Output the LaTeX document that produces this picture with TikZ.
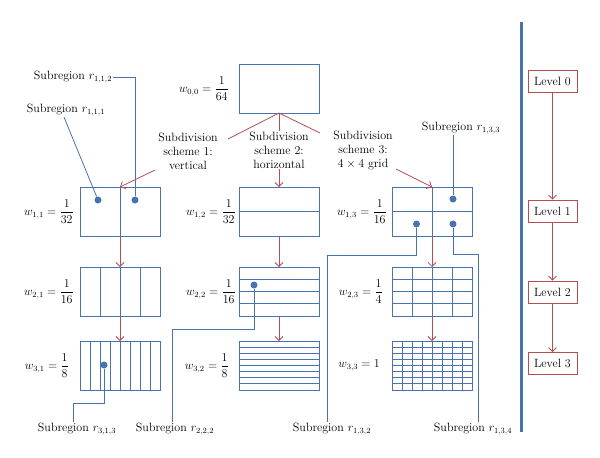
\documentclass[tikz,border=0pt]{standalone}
\usepackage{amsmath}
\usetikzlibrary{arrows.meta,calc}
\definecolor{myblue}{RGB}{72,114,176}
\definecolor{myred}{RGB}{180,78,82}
\begin{document}
\begin{tikzpicture}[x=1pt,y=-1pt,
  every node/.append style={font=\fontsize{12}{14}\selectfont},
  gbox/.style={draw=myblue, line width=0.9pt, minimum width=80pt, minimum height=49pt, inner sep=0pt, outer sep=0pt},
  gridl/.style={draw=myblue, line width=0.8pt},
  blueline/.style={draw=myblue, line width=0.8pt},
  redline/.style={draw=myred, line width=0.8pt},
  redarrow/.style={draw=myred, line width=0.8pt, -{Straight Barb[length=4pt,width=8pt]}},
  dotn/.style={circle, fill=myblue, inner sep=0pt, minimum size=7pt},
  lvl/.style={draw=myred, line width=0.8pt, minimum width=49pt, minimum height=22pt, inner sep=0pt},
  lab/.style={inner sep=1pt},
  wlab/.style={anchor=east, inner sep=0pt}
]
\useasboundingbox (0,0) rectangle (600,458);

% boxes
\node[gbox] (b00) at (279,88.5) {};
\node[gbox] (b11) at (120,211.5) {};
\node[gbox] (b12) at (279,211.5) {};
\node[gbox] (b13) at (432,211.5) {};
\node[gbox] (b21) at (120,291.5) {};
\node[gbox] (b22) at (279,291.5) {};
\node[gbox] (b23) at (432,291.5) {};
\node[gbox] (b31) at (120,365.5) {};
\node[gbox] (b32) at (279,365.5) {};
\node[gbox] (b33) at (432,365.5) {};

% vertical subdivisions
\foreach \b/\n in {b11/2,b21/4,b31/8,b13/2,b23/4,b33/8}{
  \pgfmathtruncatemacro{\m}{\n-1}
  \foreach \i in {1,...,\m}
    \draw[gridl] ($(\b.north west)!\i/\n!(\b.north east)$) -- ($(\b.south west)!\i/\n!(\b.south east)$);
}
% horizontal subdivisions
\foreach \b/\n in {b12/2,b22/4,b32/8,b13/2,b23/4,b33/8}{
  \pgfmathtruncatemacro{\m}{\n-1}
  \foreach \i in {1,...,\m}
    \draw[gridl] ($(\b.north west)!\i/\n!(\b.south west)$) -- ($(\b.north east)!\i/\n!(\b.south east)$);
}

% weight labels
\node[wlab] (w00) at (229,88.5) {$w_{0,0} = \dfrac{1}{64}$};
\node[wlab] (w11) at (74,211.5) {$w_{1,1} = \dfrac{1}{32}$};
\node[wlab] (w12) at (236,211.5) {$w_{1,2} = \dfrac{1}{32}$};
\node[wlab] (w13) at (387,211.5) {$w_{1,3} = \dfrac{1}{16}$};
\node[wlab] (w21) at (74,291.5) {$w_{2,1} = \dfrac{1}{16}$};
\node[wlab] (w22) at (236,291.5) {$w_{2,2} = \dfrac{1}{16}$};
\node[wlab] (w23) at (383,291.5) {$w_{2,3} = \dfrac{1}{4}$};
\node[wlab] (w31) at (69,365.5) {$w_{3,1} = \dfrac{1}{8}$};
\node[wlab] (w32) at (229,365.5) {$w_{3,2} = \dfrac{1}{8}$};
\node[wlab] (w33) at (380,365.5) {$w_{3,3} = 1$};

% column arrows
\draw[redarrow] (b11.south) -- (b21.north);
\draw[redarrow] (b21.south) -- (b31.north);
\draw[redarrow] (b12.south) -- (b22.north);
\draw[redarrow] (b22.south) -- (b32.north);
\draw[redarrow] (b13.south) -- (b23.north);
\draw[redarrow] (b23.south) -- (b33.north);

% schemes
\node[lab, align=center] (s1) at (188,151) {Subdivision\\scheme 1:\\vertical};
\node[lab, align=center] (s2) at (279,150) {Subdivision\\scheme 2:\\horizontal};
\node[lab, align=center] (s3) at (363,151) {Subdivision\\scheme 3:\\$4\times 4$ grid};
\coordinate (s1in) at (228,139);
\coordinate (s3in) at (320,133);
\coordinate (s1out) at (155,170);
\coordinate (s3out) at (396,169);
\draw[redline] (b00.south) -- (s1in);
\draw[redline] (b00.south) -- (s2.north);
\draw[redline] (b00.south) -- (s3in);
\draw[redarrow] (s1out) -- (b11.north);
\draw[redarrow] (s2.south) -- (b12.north);
\draw[redarrow] (s3out) -- (b13.north);

% dots
\node[dotn] (d111) at (98,200) {};
\node[dotn] (d112) at (135,200) {};
\node[dotn] (d133) at (453,199) {};
\node[dotn] (d132) at (416.5,224) {};
\node[dotn] (d134) at (453,224) {};
\node[dotn] (d222) at (254,285) {};
\node[dotn] (d313) at (104,365) {};

% subregion labels
\node[lab] (t112) at (73,77) {Subregion $r_{1,1,2}$};
\node[lab] (t111) at (66,110) {Subregion $r_{1,1,1}$};
\node[lab] (t133) at (461,128) {Subregion $r_{1,3,3}$};
\node[lab] (t313) at (77,429) {Subregion $r_{3,1,3}$};
\node[lab] (t222) at (175,429) {Subregion $r_{2,2,2}$};
\node[lab] (t132) at (332,429) {Subregion $r_{1,3,2}$};
\node[lab] (t134) at (473,429) {Subregion $r_{1,3,4}$};

\coordinate (c132) at (327,255);
\coordinate (c134) at (478,254);
\coordinate (c222) at (172,329);
\coordinate (c313) at (73,403);

\draw[blueline] (t112.east) -| (d112);
\draw[blueline] ($(t111.south)+(-2,0)$) -- (d111);
\draw[blueline] (t133.south -| d133) -- (d133);
\draw[blueline] (d132) |- (c132) -- (c132 |- t132.north);
\draw[blueline] (d134) |- (c134) -- (c134 |- t134.north);
\draw[blueline] (d222) |- (c222) -- (c222 |- t222.north);
\draw[blueline] (d313) |- (c313) -- (c313 |- t313.north);

% separator
\draw[myblue, line width=3pt] (521,22) -- (521,432);

% levels
\node[lvl] (L0) at (552.5,81) {Level 0};
\node[lvl] (L1) at (552.5,211) {Level 1};
\node[lvl] (L2) at (552.5,292) {Level 2};
\node[lvl] (L3) at (552.5,363.5) {Level 3};
\draw[redarrow] (L0) -- (L1);
\draw[redarrow] (L1) -- (L2);
\draw[redarrow] (L2) -- (L3);
\end{tikzpicture}
\end{document}
